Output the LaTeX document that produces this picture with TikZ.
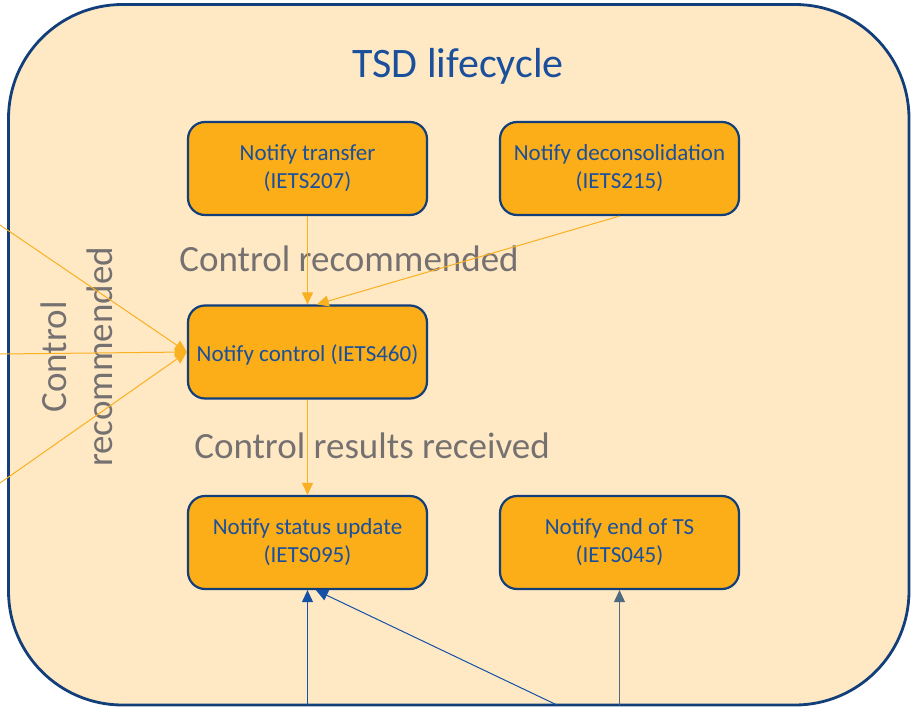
\documentclass[tikz,border=0pt]{standalone}
\usepackage{fontspec}
\setmainfont{Carlito}
\usetikzlibrary{arrows.meta}
\definecolor{lifefill}{HTML}{FFE9C5}
\definecolor{frameblue}{HTML}{123F7A}
\definecolor{titleblue}{HTML}{1A4F9C}
\definecolor{notifyorange}{HTML}{FBAE17}
\definecolor{floworange}{HTML}{F9B021}
\definecolor{labelgray}{HTML}{767171}
\definecolor{linkblue}{HTML}{1450A5}
\definecolor{linkgray}{HTML}{4D6A80}
\tikzset{
  notify/.style={draw=frameblue, line width=2.2pt, fill=notifyorange, rounded corners=17pt,
    minimum width=239pt, minimum height=93pt, align=center, text=titleblue,
    font=\fontsize{23}{28}\selectfont, execute at begin node={\rule{0pt}{23pt}}},
  flowlabel/.style={text=labelgray, font=\fontsize{37}{46}\selectfont},
  tip/.style={-{Triangle[length=12pt,width=11pt]}},
}
\begin{document}
\begin{tikzpicture}[x=1pt, y=-1pt]
\useasboundingbox (0,0) rectangle (911,707);

% Lifecycle frame
\draw[draw=frameblue, line width=2.8pt, fill=lifefill, rounded corners=114pt] (8.5,4.5) rectangle (909,705);
\node[text=titleblue, font=\fontsize{42}{50}\selectfont, anchor=base] (title) at (458,77) {TSD lifecycle};

% Messages
\node[notify] (transfer) at (307.5,168.5) {Notify transfer\\(IETS207)};
\node[notify] (decon) at (619.5,168.5) {Notify deconsolidation\\(IETS215)};
\node[notify] (control) at (307.5,352) {Notify control (IETS460)};
\node[notify] (status) at (307.5,542.5) {Notify status update\\(IETS095)};
\node[notify] (endts) at (619.5,542.5) {Notify end of TS\\(IETS045)};

% Flow labels
\node[flowlabel, anchor=base] (reclabel) at (349,271) {Control recommended};
\node[flowlabel, anchor=base] (reslabel) at (372,458) {Control results received};
\node[flowlabel, rotate=90, align=center] (sidelabel) at (77,357) {Control\\recommended};

% Free ends
\coordinate (in1) at (0,225);
\coordinate (in2) at (0,354);
\coordinate (in3) at (0,483);
\coordinate (out1) at (307.5,705);
\coordinate (out2) at (557,705);
\coordinate (out3) at (619.5,705);

% Orange flows
\draw[tip, floworange, line width=1pt] (transfer) -- (control);
\draw[tip, floworange, line width=1pt] (decon.south) -- (control.79);
\draw[tip, floworange, line width=1pt] (control) -- (status);
\foreach \src in {in1,in2,in3}
  \draw[tip, floworange, line width=1pt] (\src) -- (control.west);

% Incoming from below
\draw[tip, linkblue, line width=1pt] (out1) -- (status.south);
\draw[tip, linkblue, line width=1pt] (out2) -- (status.-80);
\draw[tip, linkgray, line width=1pt] (out3) -- (endts.south);
\end{tikzpicture}
\end{document}
